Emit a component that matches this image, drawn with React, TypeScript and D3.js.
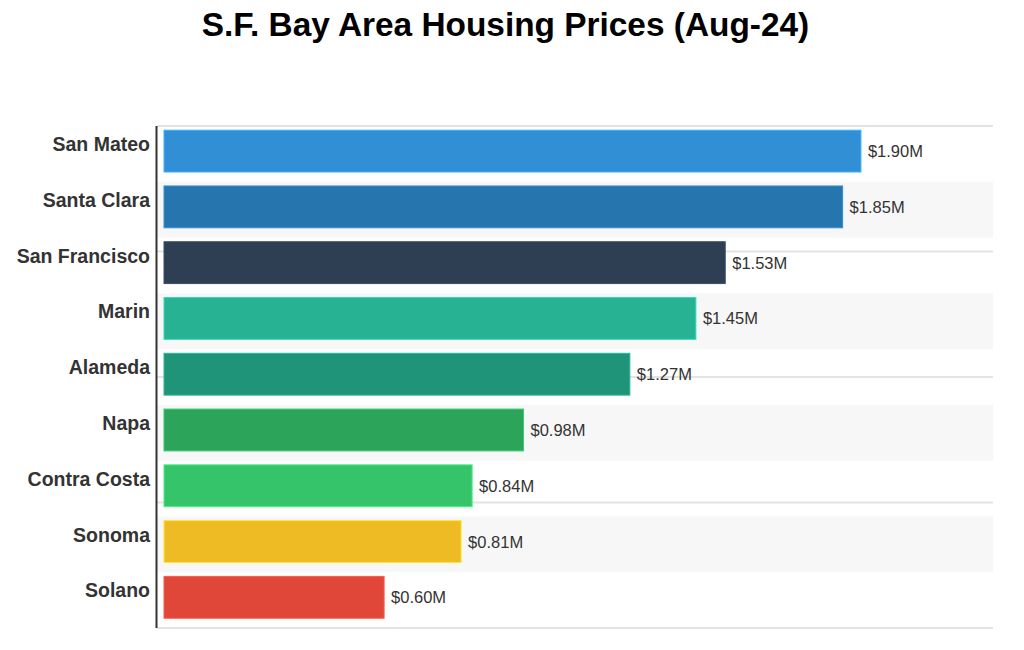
import React from "react";
import * as d3 from "d3";

const counties = ["San Mateo", "Santa Clara", "San Francisco", "Marin", "Alameda", "Napa", "Contra Costa", "Sonoma", "Solano"];
const prices = [1.90, 1.85, 1.53, 1.45, 1.27, 0.98, 0.84, 0.81, 0.60];
const colors = ["#318fd6", "#2775ae", "#2e3f54", "#27b294", "#1f9479", "#2ca55a", "#35c46a", "#eebb25", "#e04739"];
const gridTicks = [0, 0.25, 0.5, 0.75, 1];
const title = "S.F. Bay Area Housing Prices (Aug-24)";

const FONT = "'Liberation Sans', Arial, Helvetica, sans-serif";

export default function App() {
  const W = 1024, H = 650;
  const left = 157, right = 993, top = 126, bottom = 628;
  const x = d3.scaleLinear().domain([0, 2.26]).range([164, 993]);
  const y = d3.scaleBand<string>().domain(counties).range([top, bottom]).padding(0);
  const step = y.step();
  const g = d3.scaleLinear().domain([0, 1]).range([top, bottom]);

  return (
    <svg width={W} height={H} style={{ position: "absolute", left: 0, top: 0 }} fontFamily={FONT}>
      <rect x={0} y={0} width={W} height={H} fill="#fff" />
      <text x={505.5} y={36} textAnchor="middle" fontSize={33.4} fontWeight="bold" fill="#000">{title}</text>
      {counties.map((c, i) => i % 2 === 1 ? (
        <rect key={"s" + c} x={left} y={y(c)!} width={right - left} height={step} fill="#f7f7f7" />
      ) : null)}
      {gridTicks.map((t) => (
        <line key={"g" + t} x1={left} x2={right} y1={g(t)} y2={g(t)} stroke="#e3e3e3" strokeWidth={2} />
      ))}
      {counties.map((c, i) => {
        const by = y(c)! + step * 0.075;
        const bh = step * 0.75;
        const fill = colors[i];
        const stroke = d3.color(fill)!.brighter(0.6).formatHex();
        return (
          <g key={c}>
            <rect x={x(0)} y={by} width={x(prices[i]) - x(0)} height={bh} fill={fill} stroke={stroke} strokeWidth={1} />
            <text x={x(prices[i]) + 7} y={by + bh / 2 + 6} fontSize={16.5} fill="#333">{"$" + prices[i].toFixed(2) + "M"}</text>
            <text x={150} y={y(c)! + step * 0.45} textAnchor="end" fontSize={19.5} fontWeight="bold" fill="#333">{c}</text>
          </g>
        );
      })}
      <line x1={left - 0.5} x2={left - 0.5} y1={top} y2={bottom} stroke="#333" strokeWidth={2} />
    </svg>
  );
}
